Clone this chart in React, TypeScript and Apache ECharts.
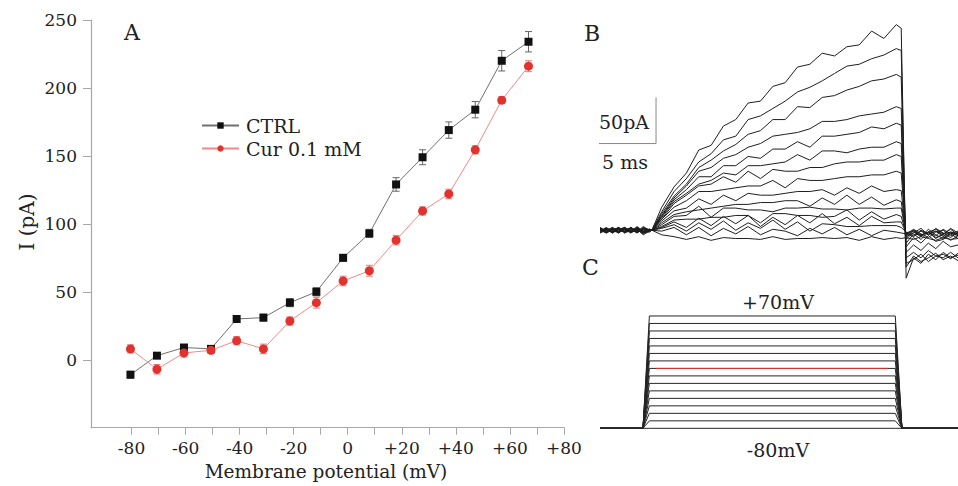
import React, { useEffect, useRef } from "react";
import * as echarts from "echarts";

const FONT = '"DejaVu Serif", "Liberation Serif", serif';

// ---------- Panel A: I-V data ----------
const voltages = [-80.4, -70.6, -60.6, -50.6, -41.1, -31.2, -21.4, -11.6, -1.7, 8.0, 17.9, 27.7, 37.4, 47.2, 57.0, 66.9];
const ctrlI = [-11, 3, 9, 8, 30, 31, 42, 50, 75, 93, 129, 149, 169, 184, 220, 234];
const ctrlErr = [2.5, 2, 2, 2, 2.5, 2.5, 3, 3, 2.5, 3, 5, 5.5, 6, 6, 7.5, 7.5];
const curI = [8, -7, 5, 7, 14, 8, 28.5, 42, 58, 65.5, 88, 109.5, 122, 154.5, 191, 216];
const curErr = [3, 3.5, 3, 2.5, 3, 3.5, 3, 4, 3.5, 4, 3.5, 3, 3.5, 3, 2.5, 4];
const xTicks = [-80, -70, -60, -50, -40, -30, -20, -10, 0, 10, 20, 30, 40, 50, 60, 70, 80];
const xLabels = [-80, -60, -40, -20, 0, 20, 40, 60, 80];
const yTicks = [0, 50, 100, 150, 200, 250];

// ---------- Panel B: current traces (ms, pA) ----------
const tBase = [0, 0.5, 1, 1.5, 2, 2.5, 3, 3.5, 4];
const tStep = [4.2, 5, 6, 7, 8, 9, 10, 11, 12, 13, 14, 15, 16, 17, 18, 19, 20, 21, 22, 23, 24, 24.4];
const tTail = [24.8, 25.4, 26, 26.6, 27.2, 27.8, 28.4, 29];

const traceBase = [
  [2, -3, 1, -2, 3, -1, 2, -4, 0],
  [-1, 2, -3, 1, -2, 3, -1, 2, 0],
  [3, -1, 2, -3, 1, -2, 4, -1, 1],
  [-2, 1, -1, 3, -3, 2, -2, 1, 0],
  [1, -2, 3, -1, 2, -3, 1, -5, -1],
  [-3, 2, -2, 1, -1, 3, -2, 2, 0],
  [2, 0, -2, 3, -2, 1, -3, 1, 1],
  [0, -3, 2, -1, 3, -2, 1, -3, 0],
  [-1, 3, -1, 2, -3, 0, 2, -2, -1],
  [1, -1, 3, -2, 0, 2, -3, 3, 0],
  [-2, 2, 0, -3, 2, -1, 3, -2, 1],
  [3, -2, 1, 2, -2, 3, -1, 0, 0],
  [0, 1, -3, 1, 3, -3, 2, -1, -1],
  [-3, 0, 2, -2, 1, 2, -2, 4, 0],
  [2, -3, 0, 3, -1, -2, 3, -3, 1],
  [-1, 1, -2, 0, 2, -1, 0, -2, -2],
];

const traceStep = [
  [0, 25, 47, 62, 87, 92, 113, 120, 138, 140, 156, 160, 177, 180, 192, 189, 199, 201, 216, 208, 223, 219],
  [0, 20, 42, 56, 74, 83, 98, 102, 120, 124, 132, 140, 150, 155, 162, 170, 178, 180, 186, 190, 197, 195],
  [0, 18, 37, 50, 68, 76, 86, 93, 104, 108, 120, 120, 134, 133, 144, 146, 152, 156, 162, 164, 169, 166],
  [0, 16, 35, 48, 64, 68, 78, 82, 90, 94, 102, 104, 106, 110, 118, 118, 120, 124, 126, 128, 134, 132],
  [0, 15, 33, 44, 58, 58, 70, 70, 80, 78, 88, 88, 96, 90, 102, 102, 104, 106, 112, 110, 116, 114],
  [0, 14, 31, 40, 50, 54, 62, 60, 70, 70, 72, 74, 82, 76, 86, 86, 84, 88, 90, 90, 96, 94],
  [0, 12, 29, 38, 48, 50, 58, 52, 64, 56, 66, 64, 64, 68, 68, 72, 74, 74, 76, 76, 82, 80],
  [0, 12, 25, 32, 42, 42, 44, 46, 48, 48, 54, 46, 56, 54, 54, 56, 58, 58, 60, 60, 64, 62],
  [0, 10, 21, 24, 34, 28, 38, 32, 40, 38, 38, 40, 42, 42, 44, 38, 46, 40, 48, 42, 44, 43],
  [0, 8, 17, 20, 22, 24, 26, 28, 28, 30, 30, 32, 32, 26, 35, 28, 38, 28, 36, 27, 33, 31],
  [0, 6, 15, 16, 26, 14, 24, 24, 22, 22, 20, 24, 24, 25, 23, 23, 22, 24, 24, 23, 24, 24],
  [0, 4, 11, 12, 12, 14, 14, 16, 16, 8, 18, 18, 16, 16, 14, 15, 22, 11, 20, 12, 17, 15],
  [0, 3, 9, 3, 13, 5, 15, 7, 16, 4, 14, 6, 16, 8, 18, 7, 14, 5, 15, 8, 9, 9],
  [0, 2, 6, -1, 8, 1, 10, 0, 8, 2, 11, 1, 9, -1, 7, 6, 4, 4, 5, 5, 5, 3],
  [0, -1, 3, -5, 3, -6, 2, -4, 4, -5, 1, -1, -6, 2, -4, 3, -5, 1, -6, 0, -2, -3],
  [0, -5, -7, -10, -7, -11, -8, -9, -9, -10, -7, -10, -9, -9, -8, -9, -8, -11, -7, -10, -8, -9],
];

const traceTail = [
  [-52, -30, -36, -26, -32, -24, -30, -27],
  [-40, -28, -34, -30, -25, -32, -28, -33],
  [-36, -32, -26, -34, -28, -30, -24, -30],
  [-30, -24, -30, -22, -28, -26, -31, -25],
  [-24, -16, -22, -14, -20, -12, -18, -16],
  [-18, -8, -14, -6, -12, -10, -4, -9],
  [-14, -4, -10, -2, -8, -5, -11, -6],
  [-10, -2, -7, 1, -5, -9, -3, -6],
  [-8, 0, -6, -2, -9, -4, 1, -5],
  [-6, -3, 2, -5, -1, -7, -2, -4],
  [-5, 1, -4, -8, -2, 0, -6, -3],
  [-4, -7, -1, -5, 2, -3, -8, -2],
  [-3, 0, -5, -2, -6, 1, -4, -1],
  [-2, -6, 0, -4, -1, -5, 2, -3],
  [-4, -1, -6, -2, 1, -4, -2, -5],
  [-8, -10, -7, -9, -11, -8, -10, -9],
];

// scale bar: 5 ms horizontal, 50 pA vertical
const scaleBar = [[-0.46, 94], [4.54, 94], [4.54, 144]];

// ---------- Panel C: voltage protocol (ms, mV) ----------
const protoTimes = [0, 3.48, 4.0, 23.92, 24.46, 29];
const holding = -80;
const stepLevels = [-80, -70, -60, -50, -40, -30, -20, -10, 0, 10, 20, 30, 40, 50, 60, 70];
const highlightLevel = 0;
const highlightTimes = [4.54, 23.3];

export default function App() {
  const ref = useRef<HTMLDivElement>(null);

  useEffect(() => {
    if (!ref.current) return;
    const chart = echarts.init(ref.current, null, { renderer: "svg" });

    const errSeries = (name: string, ys: number[], es: number[], color: string, z: number) => ({
      type: "custom",
      name: name + "_err",
      xAxisIndex: 0,
      yAxisIndex: 0,
      z,
      silent: true,
      data: voltages.map((v, i) => [v, ys[i], es[i]]),
      renderItem: (params: any, api: any) => {
        const x = api.value(0), y = api.value(1), e = api.value(2);
        const top = api.coord([x, y + e]);
        const bot = api.coord([x, y - e]);
        const w = 3.5;
        const st = { stroke: color, lineWidth: 1 };
        return {
          type: "group",
          children: [
            { type: "line", shape: { x1: top[0], y1: top[1], x2: bot[0], y2: bot[1] }, style: st },
            { type: "line", shape: { x1: top[0] - w, y1: top[1], x2: top[0] + w, y2: top[1] }, style: st },
            { type: "line", shape: { x1: bot[0] - w, y1: bot[1], x2: bot[0] + w, y2: bot[1] }, style: st },
          ],
        };
      },
    });

    const traceSeries = traceStep.map((step, k) => ({
      type: "line",
      xAxisIndex: 1,
      yAxisIndex: 1,
      symbol: "none",
      silent: true,
      lineStyle: { color: "#1e1e1e", width: 1 },
      data: [
        ...tBase.map((t, i) => [t, traceBase[k][i]]),
        ...tStep.map((t, i) => [t, step[i]]),
        ...tTail.map((t, i) => [t, traceTail[k][i]]),
      ],
    }));

    const protoSeries = stepLevels.map((lv) => ({
      type: "line",
      xAxisIndex: 2,
      yAxisIndex: 2,
      symbol: "none",
      silent: true,
      lineStyle: { color: "#262626", width: 1 },
      data: protoTimes.map((t, i) => [t, i === 0 || i === 1 || i === 4 || i === 5 ? holding : lv]),
    }));

    const axisGray = "#a8a8a8";

    chart.setOption({
      animation: false,
      backgroundColor: "#ffffff",
      textStyle: { fontFamily: FONT },
      grid: [
        { left: 91, top: 20, width: 472.9, height: 407.7, containLabel: false },
        { left: 600, top: 20, width: 358, height: 260 },
        { left: 600, top: 301, width: 358, height: 142.3 },
      ],
      legend: {
        data: ["CTRL", "Cur 0.1 mM"],
        orient: "vertical",
        left: 196,
        top: 111,
        itemWidth: 37,
        itemHeight: 8,
        itemGap: 4,
        textStyle: { fontFamily: FONT, fontSize: 19, color: "#222", padding: [0, 0, 0, 2] },
      },
      xAxis: [
        {
          type: "value",
          gridIndex: 0,
          min: -95,
          max: 80,
          splitLine: { show: false },
          axisLine: { show: true, onZero: false, lineStyle: { color: axisGray, width: 1.2 } },
          axisTick: { show: true, length: 7, customValues: xTicks, lineStyle: { color: axisGray } },
          axisLabel: {
            customValues: xLabels,
            margin: 12,
            fontFamily: FONT,
            fontSize: 17,
            color: "#222",
            formatter: (v: number) => (v > 0 ? "+" + v : "" + v),
          },
        },
        { type: "value", gridIndex: 1, min: 0, max: 29, show: false },
        { type: "value", gridIndex: 2, min: 0, max: 29, show: false },
      ],
      yAxis: [
        {
          type: "value",
          gridIndex: 0,
          min: -50,
          max: 250,
          splitLine: { show: false },
          axisLine: { show: true, onZero: false, lineStyle: { color: axisGray, width: 1.2 } },
          axisTick: { show: true, length: 8, customValues: yTicks, lineStyle: { color: axisGray } },
          axisLabel: { customValues: yTicks, margin: 14, fontFamily: FONT, fontSize: 17, color: "#222" },
        },
        { type: "value", gridIndex: 1, min: -54, max: 228, show: false },
        { type: "value", gridIndex: 2, min: -100, max: 90, show: false },
      ],
      series: [
        errSeries("CTRL", ctrlI, ctrlErr, "#666666", 3),
        errSeries("Cur", curI, curErr, "#e87878", 3),
        {
          type: "line",
          name: "CTRL",
          xAxisIndex: 0,
          yAxisIndex: 0,
          z: 4,
          data: voltages.map((v, i) => [v, ctrlI[i]]),
          symbol: "rect",
          symbolSize: 8,
          itemStyle: { color: "#111111" },
          lineStyle: { color: "#707070", width: 1 },
        },
        {
          type: "line",
          name: "Cur 0.1 mM",
          xAxisIndex: 0,
          yAxisIndex: 0,
          z: 5,
          data: voltages.map((v, i) => [v, curI[i]]),
          symbol: "circle",
          symbolSize: 9,
          itemStyle: { color: "#e2322e" },
          lineStyle: { color: "#f08a88", width: 1 },
        },
        ...traceSeries,
        {
          type: "line",
          xAxisIndex: 1,
          yAxisIndex: 1,
          symbol: "none",
          silent: true,
          clip: false,
          lineStyle: { color: "#888888", width: 1 },
          data: scaleBar,
        },
        ...protoSeries,
        {
          type: "line",
          xAxisIndex: 2,
          yAxisIndex: 2,
          symbol: "none",
          silent: true,
          z: 3,
          lineStyle: { color: "#e8302a", width: 1 },
          data: highlightTimes.map((t) => [t, highlightLevel]),
        },
      ],
      graphic: [
        { type: "text", left: 124, top: 21, style: { text: "A", font: `22px ${FONT}`, fill: "#222" } },
        { type: "text", left: 584, top: 22, style: { text: "B", font: `22px ${FONT}`, fill: "#222" } },
        { type: "text", left: 582, top: 256, style: { text: "C", font: `22px ${FONT}`, fill: "#222" } },
        {
          type: "text",
          x: 27,
          y: 222,
          rotation: Math.PI / 2,
          style: { text: "I (pA)", font: `20px ${FONT}`, fill: "#222", align: "center", verticalAlign: "middle" },
        },
        {
          type: "text",
          x: 326,
          y: 471,
          style: { text: "Membrane potential (mV)", font: `18.5px ${FONT}`, fill: "#222", align: "center", verticalAlign: "middle" },
        },
        { type: "text", x: 624, y: 122, style: { text: "50pA", font: `19px ${FONT}`, fill: "#222", align: "center", verticalAlign: "middle" } },
        { type: "text", x: 625, y: 162, style: { text: "5 ms", font: `19px ${FONT}`, fill: "#222", align: "center", verticalAlign: "middle" } },
        { type: "text", x: 778, y: 302, style: { text: "+70mV", font: `19px ${FONT}`, fill: "#222", align: "center", verticalAlign: "middle" } },
        { type: "text", x: 778, y: 450, style: { text: "-80mV", font: `19px ${FONT}`, fill: "#222", align: "center", verticalAlign: "middle" } },
      ],
    });

    return () => chart.dispose();
  }, []);

  return <div ref={ref} style={{ position: "fixed", left: 0, top: 0, width: 958, height: 486 }} />;
}
